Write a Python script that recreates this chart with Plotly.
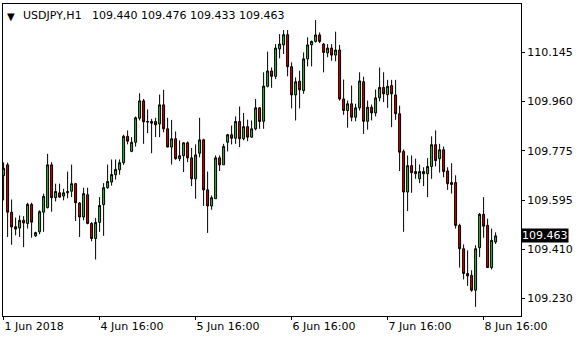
import plotly.graph_objects as go

# ---- data (USDJPY H1) ----
opens = [109.687, 109.727, 109.551, 109.497, 109.492, 109.521, 109.509, 109.580, 109.463, 109.478,
         109.551, 109.568, 109.727, 109.605, 109.623, 109.611, 109.623, 109.629, 109.657, 109.585,
         109.533, 109.616, 109.509, 109.453, 109.513, 109.579, 109.642, 109.663, 109.690, 109.709,
         109.735, 109.833, 109.777, 109.811, 109.900, 109.965, 109.886, 109.888, 109.888, 109.879,
         109.950, 109.861, 109.793, 109.824, 109.750, 109.761, 109.809, 109.753, 109.675, 109.770,
         109.820, 109.634, 109.574, 109.601, 109.753, 109.727, 109.811, 109.839, 109.826, 109.888,
         109.824, 109.869, 109.830, 109.861, 109.939, 109.889, 110.019, 110.076, 110.056, 110.158,
         110.173, 110.211, 110.092, 109.987, 110.038, 110.003, 110.121, 110.173, 110.186, 110.210,
         110.176, 110.143, 110.161, 110.135, 110.154, 109.972, 109.929, 109.954, 109.904, 109.939,
         110.036, 109.889, 109.941, 109.920, 109.976, 110.015, 109.988, 110.022, 109.987, 109.917,
         109.777, 109.626, 109.724, 109.694, 109.675, 109.702, 109.694, 109.721, 109.802, 109.750,
         109.783, 109.704, 109.661, 109.661, 109.502, 109.415, 109.323, 109.316, 109.261, 109.419,
         109.543, 109.502, 109.345, 109.440]
highs = [109.736, 109.735, 109.598, 109.531, 109.539, 109.536, 109.586, 109.586, 109.478, 109.558,
         109.620, 109.768, 109.737, 109.657, 109.657, 109.638, 109.702, 109.728, 109.660, 109.589,
         109.642, 109.642, 109.514, 109.530, 109.607, 109.659, 109.728, 109.747, 109.747, 109.747,
         109.839, 109.855, 109.830, 109.907, 109.993, 109.972, 109.933, 109.898, 109.902, 109.988,
         110.006, 109.902, 109.894, 109.851, 109.818, 109.811, 109.814, 109.790, 109.803, 109.902,
         109.824, 109.702, 109.613, 109.762, 109.762, 109.805, 109.842, 109.873, 109.907, 109.944,
         109.920, 109.895, 109.892, 109.972, 109.941, 110.071, 110.148, 110.089, 110.176, 110.213,
         110.228, 110.228, 110.108, 110.052, 110.077, 110.145, 110.201, 110.189, 110.265, 110.219,
         110.180, 110.176, 110.176, 110.222, 110.173, 110.044, 109.966, 110.022, 109.954, 110.071,
         110.055, 109.966, 109.951, 110.007, 110.089, 110.071, 110.043, 110.043, 110.043, 109.947,
         109.784, 109.762, 109.762, 109.750, 109.728, 109.718, 109.752, 109.833, 109.855, 109.805,
         109.795, 109.718, 109.733, 109.688, 109.508, 109.431, 109.409, 109.335, 109.428, 109.548,
         109.607, 109.527, 109.490, 109.476]
lows = [109.595, 109.459, 109.430, 109.465, 109.459, 109.421, 109.490, 109.456, 109.459, 109.469,
        109.478, 109.565, 109.553, 109.591, 109.605, 109.595, 109.603, 109.607, 109.518, 109.459,
        109.521, 109.506, 109.443, 109.375, 109.478, 109.463, 109.638, 109.650, 109.672, 109.690,
        109.727, 109.803, 109.774, 109.795, 109.892, 109.805, 109.845, 109.770, 109.830, 109.830,
        109.848, 109.792, 109.728, 109.746, 109.741, 109.700, 109.737, 109.648, 109.601, 109.755,
        109.574, 109.474, 109.560, 109.601, 109.704, 109.727, 109.777, 109.803, 109.805, 109.793,
        109.818, 109.815, 109.828, 109.855, 109.861, 109.861, 110.015, 110.013, 110.046, 110.123,
        110.139, 110.056, 109.937, 109.892, 109.937, 109.991, 110.093, 110.093, 110.182, 110.180,
        110.071, 110.127, 110.114, 110.112, 109.966, 109.913, 109.865, 109.889, 109.889, 109.929,
        109.842, 109.858, 109.892, 109.907, 109.963, 109.960, 109.939, 109.867, 109.894, 109.704,
        109.478, 109.555, 109.623, 109.675, 109.659, 109.648, 109.607, 109.675, 109.721, 109.698,
        109.681, 109.634, 109.620, 109.490, 109.345, 109.301, 109.277, 109.255, 109.199, 109.384,
        109.456, 109.345, 109.338, 109.433]
closes = [109.714, 109.551, 109.496, 109.488, 109.521, 109.511, 109.580, 109.514, 109.475, 109.553,
          109.610, 109.727, 109.605, 109.628, 109.607, 109.623, 109.628, 109.657, 109.586, 109.533,
          109.620, 109.509, 109.453, 109.513, 109.576, 109.642, 109.665, 109.691, 109.710, 109.735,
          109.833, 109.815, 109.811, 109.902, 109.965, 109.887, 109.888, 109.882, 109.876, 109.950,
          109.861, 109.793, 109.824, 109.750, 109.761, 109.809, 109.753, 109.675, 109.764, 109.820,
          109.634, 109.574, 109.605, 109.753, 109.727, 109.795, 109.839, 109.826, 109.888, 109.824,
          109.869, 109.830, 109.861, 109.939, 109.888, 110.020, 110.076, 110.056, 110.161, 110.176,
          110.211, 110.092, 109.987, 110.036, 110.006, 110.121, 110.173, 110.186, 110.210, 110.186,
          110.145, 110.161, 110.135, 110.154, 109.972, 109.929, 109.954, 109.904, 109.939, 110.039,
          109.889, 109.941, 109.920, 109.976, 110.015, 109.991, 110.019, 109.991, 109.917, 109.774,
          109.626, 109.724, 109.698, 109.702, 109.702, 109.694, 109.721, 109.802, 109.743, 109.783,
          109.702, 109.657, 109.654, 109.502, 109.415, 109.323, 109.314, 109.261, 109.415, 109.543,
          109.499, 109.345, 109.446, 109.463]

symbol = "USDJPY,H1"
x_tick_labels = ["1 Jun 2018", "4 Jun 16:00", "5 Jun 16:00", "6 Jun 16:00", "7 Jun 16:00", "8 Jun 16:00"]
y_tick_labels = ["110.145", "109.960", "109.775", "109.595", "109.410", "109.230"]

# ---- positions / styling ----
bars = list(range(len(opens)))
x_tick_pos = [0, 24, 48, 72, 96, 120]
y_tick_pos = [110.145, 109.962, 109.779, 109.596, 109.413, 109.230]

FONT = "DejaVu Sans"
GREEN = "#3cb43c"
RED = "#d40000"

fig = go.Figure(go.Candlestick(
    x=bars, open=opens, high=highs, low=lows, close=closes,
    increasing=dict(fillcolor=GREEN, line=dict(color="black", width=1)),
    decreasing=dict(fillcolor=RED, line=dict(color="black", width=1)),
    whiskerwidth=0, hoverinfo="skip",
))

last = closes[-1]
annotations = [
    dict(text="▼", xref="paper", yref="paper", x=0.004, y=1.0, xanchor="left", yanchor="top",
         yshift=-5, showarrow=False, font=dict(family=FONT, size=10, color="black")),
    dict(text=symbol, xref="paper", yref="paper", x=0.0, y=1.0, xanchor="left", yanchor="top",
         xshift=18, yshift=-3, showarrow=False, font=dict(family=FONT, size=11, color="black")),
    dict(text=" ".join(f"{v:.3f}" for v in (opens[-1], highs[-1], lows[-1], closes[-1])),
         xref="paper", yref="paper", x=0.0, y=1.0, xanchor="left", yanchor="top",
         xshift=87, yshift=-3, showarrow=False, font=dict(family=FONT, size=11, color="black")),
    dict(text=f"{last:.3f}", xref="paper", yref="y", x=1.0, y=last, xanchor="left", yanchor="middle",
         showarrow=False, bgcolor="black", borderpad=0, xshift=0,
         font=dict(family=FONT, size=11, color="white")),
]

fig.update_layout(
    width=580, height=340,
    margin=dict(l=3, r=59, t=4, b=24),
    paper_bgcolor="white", plot_bgcolor="white",
    showlegend=False,
    annotations=annotations,
    xaxis=dict(
        range=[-0.15, 129.35], rangeslider=dict(visible=False),
        showgrid=False, zeroline=False, showline=True, mirror=True,
        linecolor="black", linewidth=1,
        ticks="outside", ticklen=3, tickcolor="black", tickwidth=1,
        tickvals=x_tick_pos, ticktext=x_tick_labels,
        ticklabelposition="outside right",
        tickfont=dict(family=FONT, size=11, color="black"),
        fixedrange=True,
    ),
    yaxis=dict(
        side="right", range=[109.165, 110.325],
        showgrid=False, zeroline=False, showline=True, mirror=True,
        linecolor="black", linewidth=1,
        ticks="outside", ticklen=3, tickcolor="black", tickwidth=1,
        tickvals=y_tick_pos, ticktext=y_tick_labels,
        tickfont=dict(family=FONT, size=11, color="black"),
        fixedrange=True,
    ),
)

fig.write_html("out.html")
